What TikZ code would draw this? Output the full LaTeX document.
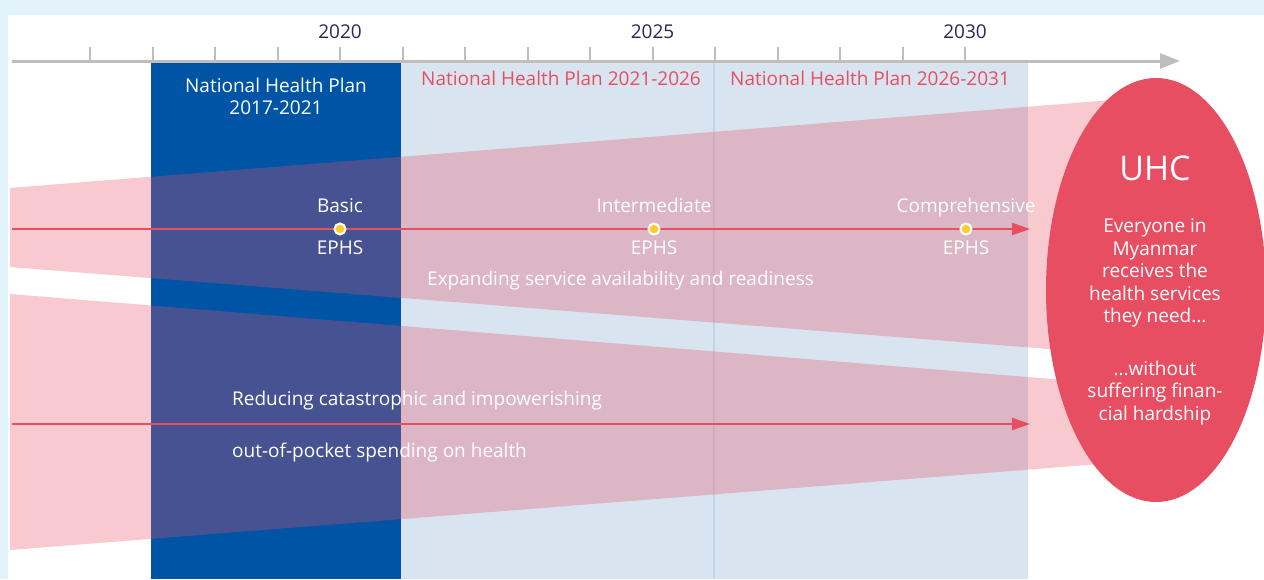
\documentclass[tikz,border=0pt]{standalone}
\usepackage{fontspec}
\setmainfont{Open Sans}
\usetikzlibrary{positioning, arrows.meta, shapes.geometric}
\definecolor{frame}{RGB}{226, 243, 251}
\definecolor{navy}{RGB}{0, 84, 166}
\definecolor{pale}{RGB}{216, 228, 240}
\definecolor{paleline}{RGB}{196, 212, 232}
\definecolor{uhcred}{RGB}{232, 78, 98}
\definecolor{axisgray}{RGB}{190, 190, 190}
\definecolor{yeartext}{RGB}{40, 40, 90}
\definecolor{dotfill}{RGB}{255, 205, 40}

\begin{document}
\begin{tikzpicture}[x=1pt, y=-1pt,
    lbl/.style={text=white, font=\fontsize{19}{22.5}\selectfont, inner sep=0pt, text height=13.5pt, text depth=3.5pt},
    planlbl/.style={text=uhcred, font=\fontsize{19}{22.5}\selectfont, inner sep=0pt},
    milestone/.style={circle, fill=dotfill, draw=white, line width=2pt, minimum size=11pt, inner sep=0pt},
    goal/.style={-{Triangle[length=18pt, width=12pt]}, line width=2.2pt, uhcred}]
        \useasboundingbox (0,0) rectangle (1264,579);
        % Fundo
        \fill[frame] (0,0) rectangle (1264,579);
        \fill[white] (8,15) rectangle (1264,579);

        % Planos
        \fill[pale] (401,62) rectangle (1028,579);
        \fill[navy] (151,62) rectangle (401,579);
        \draw[paleline, line width=2pt] (714,62) -- (714,579);
        \node[lbl, align=center, text height=, text depth=] (nhp1) at (276,96.5) {National Health Plan\\2017-2021};
        \node[planlbl] (nhp2) at (561,78) {National Health Plan 2021-2026};
        \node[planlbl] (nhp3) at (870,78) {National Health Plan 2026-2031};

        % Eixo do tempo
        \coordinate (ax0) at (12,61);
        \coordinate (ax1) at (1180,61);
        \foreach \i in {0,...,14}
            \draw[axisgray, line width=2pt] ({90+62.5*\i},47) -- ({90+62.5*\i},61);
        \draw[axisgray, line width=3pt, -{Triangle[length=20pt, width=15pt]}] (ax0) -- (ax1);
        \foreach \yr/\xx in {2020/340, 2025/652.5, 2030/965}
            \node[text=yeartext, font=\fontsize{19}{22}\selectfont] (yr\yr) at (\xx,32) {\yr};

        % Faixas
        \fill[uhcred, opacity=0.3] (10,188) -- (1150,97) -- (1150,357) -- (10,267) -- cycle;
        \fill[uhcred, opacity=0.3] (10,294) -- (1150,387) -- (1150,460) -- (10,550) -- cycle;

        % UHC
        \node[ellipse, fill=uhcred, minimum width=220pt, minimum height=424pt, inner sep=0pt] (uhc) at (1156,290) {};
        \node[text=white, font=\fontsize{34}{40}\selectfont] (uhctitle) at (1155,168) {UHC};
        \node[lbl, align=center, text height=, text depth=] (uhcneed) at (1155,273) {Everyone in\\Myanmar\\receives the\\health services\\they need...};
        \node[lbl, align=center, text height=, text depth=] (uhccost) at (1155,393) {...without\\suffering finan-\\cial hardship};

        % Setas
        \coordinate (s1) at (12,229);
        \coordinate (e1) at (1030,229);
        \coordinate (s2) at (12,424);
        \coordinate (e2) at (1030,424);
        \draw[goal] (s1) -- (e1);
        \draw[goal] (s2) -- (e2);

        % Pacotes EPHS
        \node[milestone] (basic) at (340,229) {};
        \node[milestone] (inter) at (654,229) {};
        \node[milestone] (compr) at (966,229) {};
        \node[lbl, above=6pt of basic] (basictop) {Basic};
        \node[lbl, below=5.5pt of basic] (basicbot) {EPHS};
        \node[lbl, above=6pt of inter] (intertop) {Intermediate};
        \node[lbl, below=5.5pt of inter] (interbot) {EPHS};
        \node[lbl, above=6pt of compr] (comprtop) {Comprehensive};
        \node[lbl, below=5.5pt of compr] (comprbot) {EPHS};

        % Textos das faixas
        \node[lbl, anchor=west] (expand) at (427,280) {Expanding service availability and readiness};
        \node[lbl, anchor=west] (reduce) at (232,400) {Reducing catastrophic and impowerishing};
        \node[lbl, anchor=west] (oop) at (232,452) {out-of-pocket spending on health};
    \end{tikzpicture}
\end{document}
